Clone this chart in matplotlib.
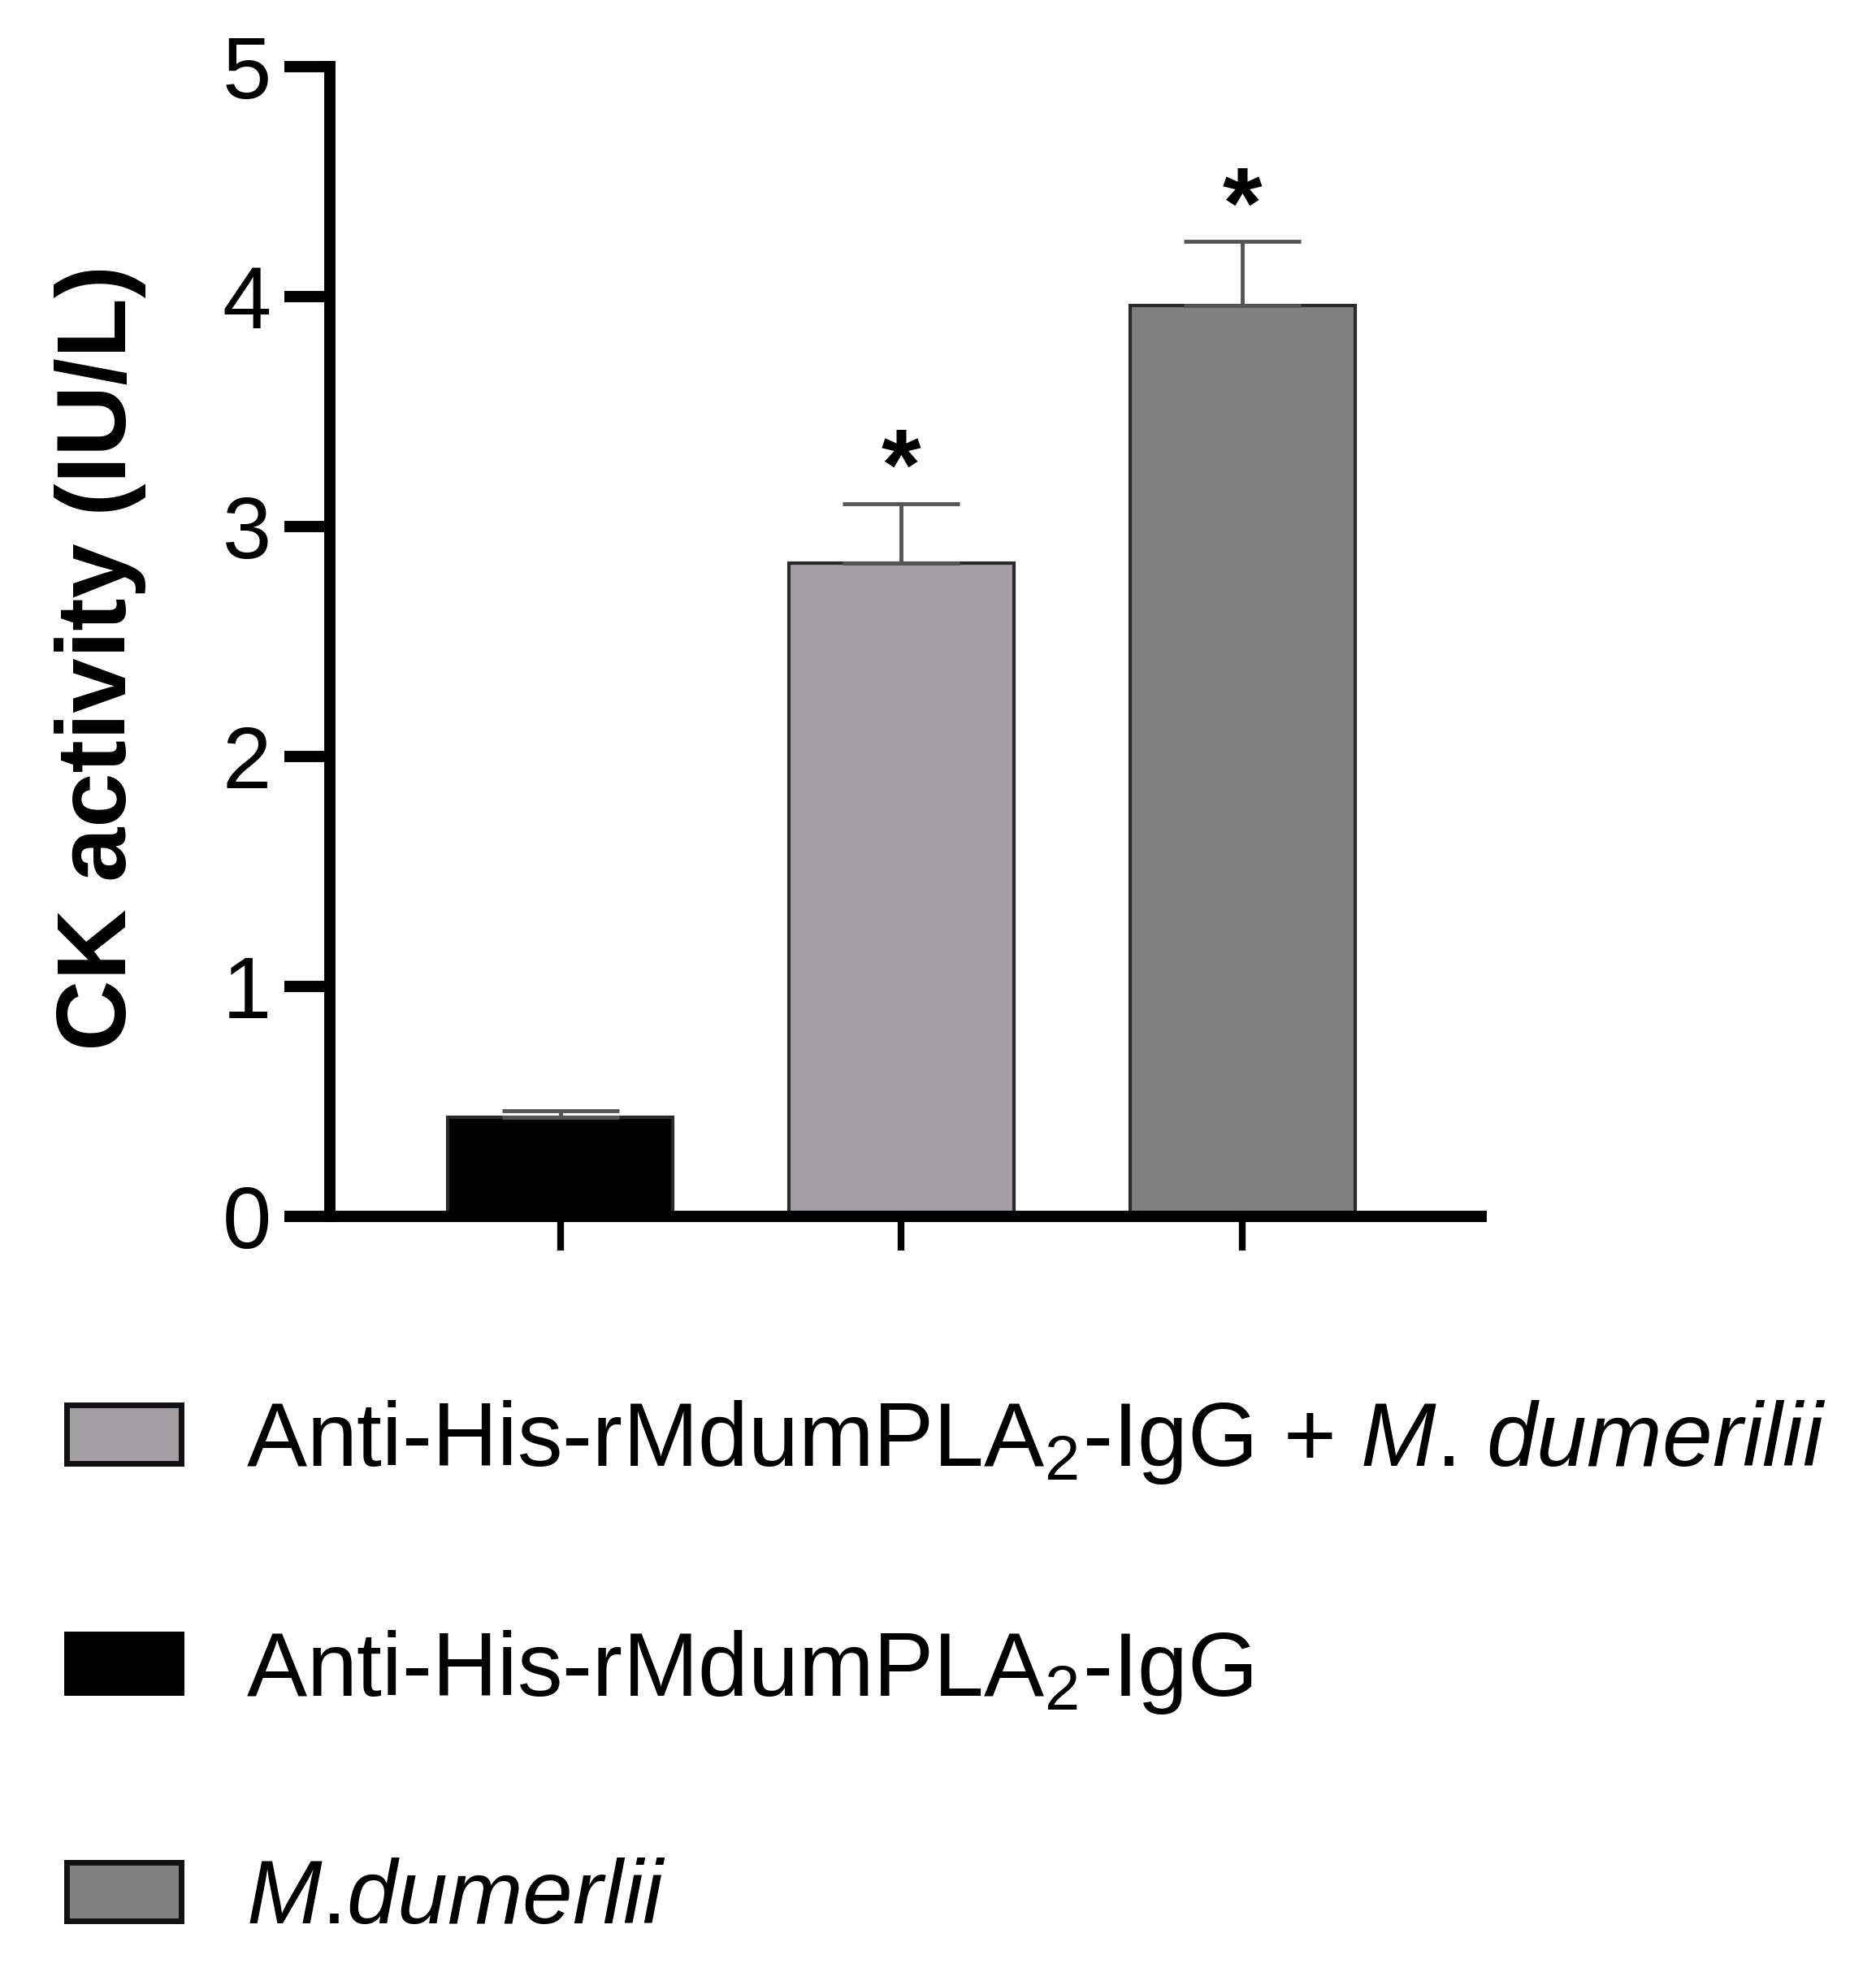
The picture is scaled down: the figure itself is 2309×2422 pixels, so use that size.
import matplotlib
matplotlib.use("Agg")
import matplotlib.pyplot as plt
from matplotlib.patches import Patch

plt.rcParams['font.family'] = ['Liberation Sans', 'DejaVu Sans']
plt.rcParams['mathtext.fontset'] = 'custom'
plt.rcParams['mathtext.rm'] = 'Liberation Sans'
plt.rcParams['mathtext.it'] = 'Liberation Sans:italic'

# data
groups = ['Anti-His-rMdumPLA$_2$-IgG',
          'Anti-His-rMdumPLA$_2$-IgG + $\\mathit{M}$. $\\mathit{dumerilii}$',
          '$\\mathit{M}$.$\\mathit{dumerlii}$']
means = [0.43, 2.84, 3.96]
errs = [0.03, 0.26, 0.28]
signif = ['', '*', '*']
colors = ['#000000', '#a19fa4', '#808080']
legend_order = [1, 0, 2]

fig = plt.figure(figsize=(23.09, 24.22), dpi=100)
ax = fig.add_axes([0.1758, 0.3819, 0.6137, 0.5842])

x = list(range(len(means)))
ax.bar(x, means, width=0.66, color=colors, edgecolor='#2a2a2a', linewidth=3, zorder=2)
ax.errorbar(x, means, yerr=[[0] * len(errs), errs], fmt='none', ecolor='#555555',
            elinewidth=3.5, capsize=52, capthick=3.5, zorder=3)
for xi, m, e, s in zip(x, means, errs, signif):
    if s:
        ax.text(xi, m + e + 0.13, s, ha='center', va='center', fontsize=90, fontweight='bold')

ax.set_xlim(-0.676, 2.70)
ax.set_ylim(0, 5)
ax.set_yticks([0, 1, 2, 3, 4, 5])
ax.set_xticks(x)
ax.set_xticklabels([])
for side in ['top', 'right']:
    ax.spines[side].set_visible(False)
for side in ['left', 'bottom']:
    ax.spines[side].set_linewidth(10)
ax.tick_params(axis='y', length=40, width=10, labelsize=78, pad=12)
ax.tick_params(axis='x', length=30, width=6)

fig.text(124 / 2309, 1 - 809 / 2422, 'CK activity (IU/L)', rotation=90, ha='center', va='center',
         fontsize=87, fontweight='bold')

handles = [Patch(facecolor=colors[i], edgecolor='#111111' if i else '#000000', linewidth=5) for i in legend_order]
labels = [groups[i] for i in legend_order]
fig.legend(handles, labels, loc='upper left', bbox_to_anchor=(0.0355, 0.2894), frameon=False,
           fontsize=80, borderpad=0, borderaxespad=0, handlelength=1.27, handleheight=0.62,
           handletextpad=0.72, labelspacing=1.57)

fig.savefig('out.png', dpi=100)
